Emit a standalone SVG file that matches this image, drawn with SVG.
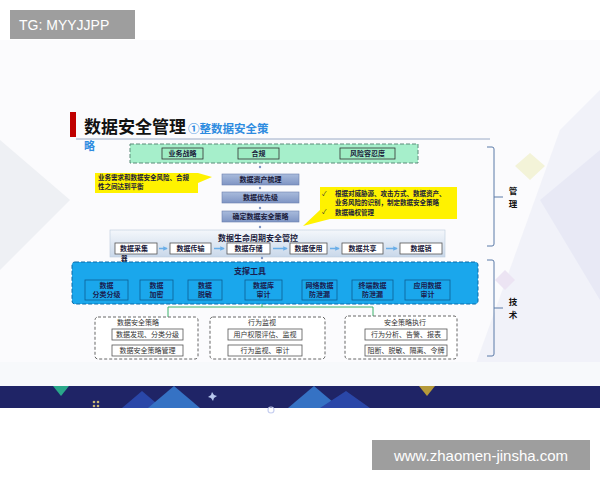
<svg xmlns="http://www.w3.org/2000/svg" width="600" height="480" viewBox="0 0 600 480">
<defs>
<style>
text{font-family:"Noto Sans CJK SC","Noto Sans",sans-serif;}
.t7{font-size:7px;font-weight:700;fill:#1a1a3a;text-anchor:middle;}
.t7n{font-size:7px;fill:#333;text-anchor:middle;}
.tt{font-size:7px;font-weight:700;fill:#1a2050;text-anchor:middle;}
.cl{font-size:6.5px;font-weight:700;fill:#1a1a3a;}
.wb{fill:#fff;stroke:#444;stroke-width:0.8;}
.tb{fill:#1aa7ec;stroke:#0d5f95;stroke-width:0.8;}
.gb{fill:#fff;stroke:#666;stroke-width:1;stroke-dasharray:3 2;}
.ib{fill:#fff;stroke:#555;stroke-width:0.8;}
.cb{fill:url(#cg);stroke:#6b7fae;stroke-width:0.6;}
.yl{fill:#fff200;}
.dot{fill:#7d95c2;}
.conn{stroke:#3ab36b;stroke-width:1;fill:none;}
.arr{stroke:#6aaee8;stroke-width:1.5;fill:none;marker-end:url(#ah);}
.brace{stroke:#5a7aa8;stroke-width:1;fill:none;}
.lab{font-size:8.5px;font-weight:700;fill:#111;text-anchor:middle;}
</style>
<linearGradient id="cg" x1="0" y1="0" x2="0" y2="1"><stop offset="0" stop-color="#a9bbdc"/><stop offset="1" stop-color="#7f95c4"/></linearGradient>
<linearGradient id="lg" x1="0" y1="0" x2="0" y2="1"><stop offset="0" stop-color="#f4f7fb"/><stop offset="1" stop-color="#c9d8ea"/></linearGradient>
<marker id="ah" viewBox="0 0 6 6" refX="5" refY="3" markerWidth="3" markerHeight="3" orient="auto"><path d="M0,0 L6,3 L0,6 Z" fill="#6aaee8"/></marker>
</defs>
<rect width="600" height="480" fill="#fff"/>
<g id="slide-bg">
<rect x="0" y="40" width="600" height="346" fill="#fbfbfd"/>
<polygon points="0,140 70,200 0,270" fill="#eef0f4"/>
<polygon points="560,130 600,90 600,380 470,380" fill="#eceef7" opacity="0.7"/>
<polygon points="540,200 600,150 600,300" fill="#e4e6f3" opacity="0.7"/>
<polygon points="530,153 545,166 530,180 515,166" fill="#f3f3d8"/>
<polygon points="505,270 515,280 505,290 495,280" fill="#ece4f3"/>
<rect x="0" y="362" width="600" height="24" fill="#f7f9fb"/>
</g>
<g id="bottom-band">
<rect x="0" y="386" width="600" height="22" fill="#1f2466"/>
<polygon points="122,408 142,391 162,408" fill="#2a47a8"/>
<polygon points="148,408 174,386 200,408" fill="#3572c4"/>
<polygon points="288,408 314,386 340,408" fill="#3572c4"/>
<polygon points="320,408 346,391 370,408" fill="#2a47a8"/>
<polygon points="53,386 69,386 61,396" fill="#2aa88a"/>
<polygon points="419,386 435,386 427,396" fill="#b59a3a"/>
<polygon points="212,392 214,395 217,396 214,398 213,401 211,398 208,397 211,395" fill="#b8c8ee"/>
<g fill="#c9b877"><circle cx="94" cy="402" r="1.3"/><circle cx="98" cy="402" r="1.3"/><circle cx="94" cy="406" r="1.3"/><circle cx="98" cy="406" r="1.3"/></g>
<circle cx="271" cy="410" r="3" fill="none" stroke="#c8d0f0" stroke-width="1.2"/>
</g>
<g id="title">
<rect x="70" y="112" width="6" height="25" fill="#c00000"/>
<text x="84" y="133" font-size="17" font-weight="700" fill="#111">数据安全管理</text>
<text x="188" y="133" font-size="11.5" font-weight="700" fill="#2f8ce0">①整数据安全策</text>
<text x="84" y="150" font-size="11" font-weight="700" fill="#2f8ce0">略</text>
<line x1="76" y1="139" x2="490" y2="139" stroke="#9aaac6" stroke-width="1"/>
</g>
<g id="top-box">
<rect x="130" y="144" width="288" height="19" fill="#a6efcb" stroke="#5a8a78" stroke-width="1" stroke-dasharray="4 2"/>
<rect x="162" y="148" width="41" height="11" fill="#9eeec4" stroke="#333" stroke-width="0.8"/>
<text class="t7" x="182.5" y="156">业务战略</text>
<rect x="238" y="148" width="41" height="11" fill="#9eeec4" stroke="#333" stroke-width="0.8"/>
<text class="t7" x="258.5" y="156">合规</text>
<rect x="340" y="148" width="55" height="11" fill="#9eeec4" stroke="#333" stroke-width="0.8"/>
<text class="t7" x="367.5" y="156">风险容忍度</text>
</g>
<g id="center-column">
<circle class="dot" cx="260" cy="167" r="1.2"/>
<rect class="cb" x="222" y="174" width="77" height="11"/>
<text class="t7" x="260.5" y="182">数据资产梳理</text>
<circle class="dot" cx="260" cy="188" r="1.2"/>
<rect class="cb" x="222" y="192" width="77" height="11"/>
<text class="t7" x="260.5" y="200">数据优先级</text>
<circle class="dot" cx="260" cy="208" r="1.2"/>
<rect class="cb" x="222" y="211" width="77" height="11"/>
<text class="t7" x="260.5" y="219">确定数据安全策略</text>
<circle class="dot" cx="260" cy="227" r="1.2"/>
</g>
<g id="callout-left">
<path class="yl" d="M95,173 H198 L212,177 L198,183 V193 H95 Z"/>
<text class="cl" x="98" y="180">业务需求和数据安全风险、合规</text>
<text class="cl" x="98" y="189">性之间达到平衡</text>
</g>
<g id="callout-right">
<path class="yl" d="M320,187 H457 V219 H330 L303,226 L320,210 Z"/>
<text x="322" y="196" font-size="6.5" fill="#1a1a3a">✓</text>
<text class="cl" x="335" y="196">根据对威胁源、攻击方式、数据资产、</text>
<text class="cl" x="335" y="205">业务风险的识别，制定数据安全策略</text>
<text x="322" y="214" font-size="6.5" fill="#1a1a3a">✓</text>
<text class="cl" x="335" y="215">数据确权管理</text>
</g>
<g id="lifecycle">
<rect x="110" y="230" width="335" height="27" fill="url(#lg)" stroke="#bccbdd" stroke-width="0.6"/>
<text x="258" y="241" font-size="8" font-weight="700" fill="#1a1a3a" text-anchor="middle">数据生命周期安全管控</text>
<rect class="ib" x="115" y="243" width="42" height="11"/>
<text class="t7" x="134" y="251">数据采集</text>
<text x="121" y="261" font-size="6.5" font-weight="700" fill="#1a1a3a">器</text>
<rect class="ib" x="170" y="243" width="41" height="11"/>
<text class="t7" x="190.5" y="251">数据传输</text>
<rect class="ib" x="227" y="243" width="43" height="11"/>
<text class="t7" x="248.5" y="251">数据存储</text>
<rect class="ib" x="290" y="243" width="37" height="11"/>
<text class="t7" x="308.5" y="251">数据使用</text>
<rect class="ib" x="342" y="243" width="41" height="11"/>
<text class="t7" x="362.5" y="251">数据共享</text>
<rect class="ib" x="400" y="243" width="42" height="11"/>
<text class="t7" x="421" y="251">数据销</text>
<circle class="dot" cx="262" cy="258" r="1.2"/>
</g>
<g id="tools">
<rect x="72" y="262" width="406" height="42" rx="3" fill="#1aa7ec" stroke="#0a6aa8" stroke-width="1" stroke-dasharray="4 2"/>
<text x="250" y="274" font-size="8" font-weight="700" fill="#1a2050" text-anchor="middle">支撑工具</text>
<rect class="tb" x="85" y="280" width="43" height="20"/>
<text class="tt" x="106.5" y="288">数据</text><text class="tt" x="106.5" y="297">分类分级</text>
<rect class="tb" x="140" y="280" width="33" height="20"/>
<text class="tt" x="156.5" y="288">数据</text><text class="tt" x="156.5" y="297">加密</text>
<rect class="tb" x="188" y="280" width="34" height="20"/>
<text class="tt" x="205" y="288">数据</text><text class="tt" x="205" y="297">脱敏</text>
<rect class="tb" x="245" y="280" width="37" height="20"/>
<text class="tt" x="263.5" y="288">数据库</text><text class="tt" x="263.5" y="297">审计</text>
<rect class="tb" x="302" y="280" width="35" height="20"/>
<text class="tt" x="319.5" y="288">网络数据</text><text class="tt" x="319.5" y="297">防泄漏</text>
<rect class="tb" x="352" y="280" width="41" height="20"/>
<text class="tt" x="372.5" y="288">终端数据</text><text class="tt" x="372.5" y="297">防泄漏</text>
<rect class="tb" x="405" y="280" width="45" height="20"/>
<text class="tt" x="427.5" y="288">应用数据</text><text class="tt" x="427.5" y="297">审计</text>
</g>
<g id="connectors">
<path class="arr" d="M159,248.5 H167"/>
<path class="arr" d="M214,248.5 H224"/>
<path class="arr" d="M273,248.5 H287"/>
<path class="arr" d="M330,248.5 H339"/>
<path class="arr" d="M386,248.5 H397"/>
<path class="conn" d="M262,304 V307 M168,317 V307 H373 V316"/>
</g>
<g id="policy">
<rect class="gb" x="95" y="317" width="103" height="42" rx="3"/>
<text class="t7n" x="138" y="325">数据安全策略</text>
<rect class="ib" x="112" y="329" width="71" height="11"/>
<text class="t7n" x="147.5" y="337">数据发现、分类分级</text>
<rect class="ib" x="112" y="345" width="71" height="11"/>
<text class="t7n" x="147.5" y="353">数据安全策略管理</text>
</g>
<g id="monitor">
<rect class="gb" x="210" y="317" width="115" height="42" rx="3"/>
<text class="t7n" x="262" y="325">行为监视</text>
<rect class="ib" x="228" y="329" width="74" height="11"/>
<text class="t7n" x="265" y="337">用户权限评估、监视</text>
<rect class="ib" x="228" y="345" width="74" height="11"/>
<text class="t7n" x="265" y="353">行为监视、审计</text>
</g>
<g id="execute">
<rect class="gb" x="345" y="316" width="112" height="43" rx="3"/>
<text class="t7n" x="405" y="325">安全策略执行</text>
<rect class="ib" x="365" y="329" width="82" height="11"/>
<text class="t7n" x="406" y="337">行为分析、告警、报表</text>
<rect class="ib" x="365" y="345" width="82" height="11"/>
<text class="t7n" x="406" y="353">阻断、脱敏、隔离、令牌</text>
</g>
<g id="brace-management">
<path class="brace" d="M487,147 H492 Q494,147 494,149 V244 Q494,246 492,246 H487 M494,197 H503"/>
<text class="lab" x="513" y="194">管</text>
<text class="lab" x="513" y="207">理</text>
</g>
<g id="brace-tech">
<path class="brace" d="M487,260 H492 Q494,260 494,262 V354 Q494,356 492,356 H487 M494,308 H503"/>
<text class="lab" x="513" y="305">技</text>
<text class="lab" x="513" y="318">术</text>
</g>
<g id="watermarks">
<rect x="10" y="10" width="125" height="29" fill="#9e9e9e"/>
<text x="19" y="30" font-size="14" fill="#fff" style="font-family:'Liberation Sans',Arial,sans-serif">TG: MYYJJPP</text>
<rect x="372" y="440" width="218" height="30" fill="#9e9e9e"/>
<text x="481" y="461" font-size="15" fill="#fff" text-anchor="middle" style="font-family:'Liberation Sans',Arial,sans-serif">www.zhaomen-jinsha.com</text>
</g>
</svg>
